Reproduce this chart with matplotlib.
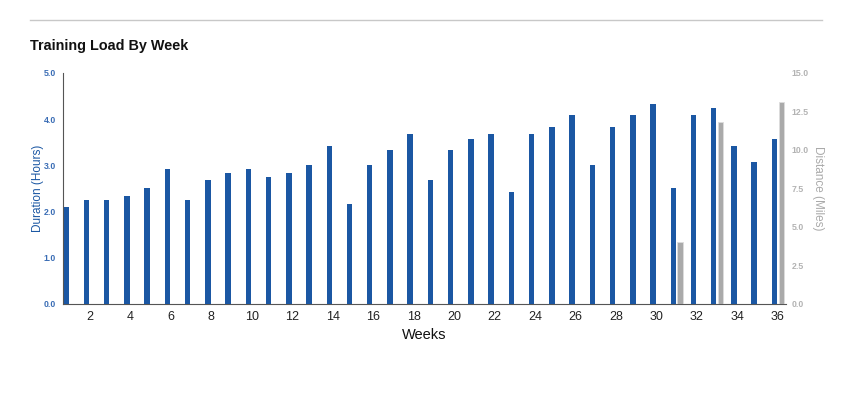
import numpy as np
import matplotlib
matplotlib.use("Agg")
import matplotlib.pyplot as plt

plt.rcParams['font.family'] = ['Liberation Sans', 'DejaVu Sans']

# weekly values
weeks = list(range(1, 37))
duration_hours = [2.10, 2.25, 2.25, 2.33, 2.50, 2.93, 2.25, 2.68, 2.83, 2.93,
                  2.75, 2.83, 3.00, 3.42, 2.17, 3.00, 3.33, 3.67, 2.68, 3.33,
                  3.58, 3.67, 2.42, 3.67, 3.83, 4.08, 3.00, 3.83, 4.08, 4.33,
                  2.50, 4.08, 4.25, 3.42, 3.08, 3.58]
distance_miles = [0] * 36
distance_miles[30] = 4.0
distance_miles[32] = 11.8
distance_miles[35] = 13.1
xticks = list(range(2, 37, 2))

blue = '#1b57a3'
grey = '#aaaaaa'

fig = plt.figure(figsize=(8.46, 3.93), dpi=100)
ax = fig.add_axes([0.0745, 0.2265, 0.8545, 0.5878])
ax2 = ax.twinx()

x = np.array(weeks)
ax.bar(x - 0.17, duration_hours, width=0.27, color=blue, zorder=3)
ax2.bar(x + 0.17, distance_miles, width=0.27, color=grey,
        edgecolor='#dddddd', linewidth=0.6, zorder=3)

ax.set_xlim(0.67, 36.4)
ax.set_ylim(0, 5)
ax2.set_ylim(0, 15)
ax.set_yticks(np.arange(0, 5.1, 1.0))
ax.set_yticklabels(['%.1f' % v for v in np.arange(0, 5.1, 1.0)],
                   fontweight='bold')
ax2.set_yticks(np.arange(0, 15.1, 2.5))
ax2.set_yticklabels(['%.1f' % v for v in np.arange(0, 15.1, 2.5)],
                    fontweight='bold')
ax.set_xticks(xticks)

ax.tick_params(axis='y', length=0, labelsize=6.3, labelcolor='#3a6db5', pad=5)
ax2.tick_params(axis='y', length=0, labelsize=6.3, labelcolor='#b3b3b3', pad=4)
ax.tick_params(axis='x', length=0, labelsize=9, labelcolor='#222222', pad=5)

for a in (ax, ax2):
    a.spines['top'].set_visible(False)
    a.spines['right'].set_visible(False)
ax2.spines['left'].set_visible(False)
ax2.spines['bottom'].set_visible(False)
ax.spines['left'].set_color('#555555')
ax.spines['bottom'].set_color('#555555')
ax.spines['left'].set_linewidth(0.8)
ax.spines['bottom'].set_linewidth(0.8)

ax.set_ylabel('Duration (Hours)', color=blue, fontsize=8.5, labelpad=0)
ax2.set_ylabel('Distance (Miles)', color='#aaaaaa', fontsize=8.5,
               rotation=270, labelpad=11)
ax.set_xlabel('Weeks', fontsize=10.5, color='#111111', labelpad=4)

fig.text(30 / 846, 1 - 46 / 393, 'Training Load By Week', fontsize=10.4,
         fontweight='bold', va='center', ha='left', color='#111111')
fig.add_artist(plt.Line2D([30 / 846, 822 / 846], [1 - 20 / 393, 1 - 20 / 393],
                          color='#c8c8c8', linewidth=1))

fig.savefig('out.png', dpi=100)
